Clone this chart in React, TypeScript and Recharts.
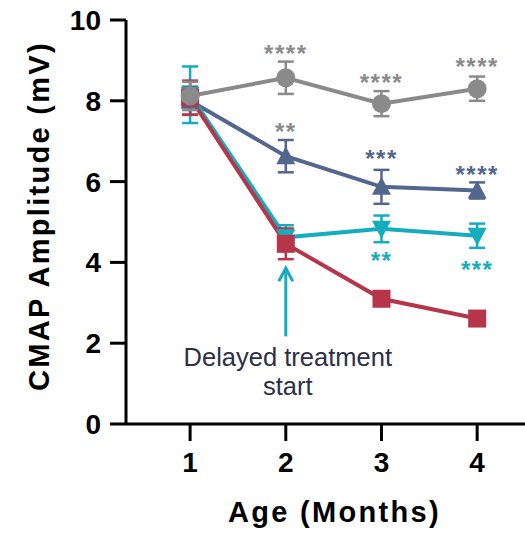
import { LineChart, Line, XAxis, YAxis, ErrorBar, ReferenceDot, ReferenceLine } from 'recharts';

const months = [1, 2, 3, 4];
const yTicks = [0, 2, 4, 6, 8, 10];

const grayMean = [8.12, 8.57, 7.93, 8.3];
const grayErr = [0.35, 0.4, 0.31, 0.3];
const slateMean = [8.0, 6.63, 5.87, 5.78];
const slateErr = [0.35, 0.4, 0.42, 0.2];
const tealMean = [8.15, 4.62, 4.83, 4.66];
const tealErr = [0.7, 0.3, 0.33, 0.3];
const redMean = [8.08, 4.46, 3.1, 2.61];
const redErr = [0.42, 0.38, 0.1, 0.1];

// significance stars: month, level (mV), text, group
const starMonths = [2, 3, 4, 2, 3, 4, 3, 4];
const starLevels = [9.3, 8.58, 8.97, 7.37, 6.7, 6.31, 4.16, 3.94];
const starTexts = ['****', '****', '****', '**', '***', '****', '**', '***'];
const starGroups = ['gray', 'gray', 'gray', 'gray', 'slate', 'slate', 'teal', 'teal'];

const noteLines = ['Delayed treatment', 'start'];

const colors: Record<string, string> = {
  gray: '#8a8a8a',
  slate: '#53678e',
  teal: '#14adbe',
  red: '#b7354b',
};

const data = months.map((m, i) => ({
  month: m,
  gray: grayMean[i],
  grayErr: grayErr[i],
  slate: slateMean[i],
  slateErr: slateErr[i],
  teal: tealMean[i],
  tealErr: tealErr[i],
  red: redMean[i],
  redErr: redErr[i],
}));

const font = 'Arial, "Liberation Sans", Helvetica, sans-serif';

const circleDot = (color: string) => (p: any) => (
  <circle key={`c-${p.index}`} cx={p.cx} cy={p.cy} r={9.5} fill={color} />
);
const squareDot = (color: string) => (p: any) => (
  <rect key={`s-${p.index}`} x={p.cx - 9} y={p.cy - 9} width={18} height={18} fill={color} />
);
const upDot = (color: string) => (p: any) => (
  <polygon
    key={`u-${p.index}`}
    points={`${p.cx},${p.cy - 10} ${p.cx + 9.5},${p.cy + 8} ${p.cx - 9.5},${p.cy + 8}`}
    fill={color}
  />
);
const downDot = (color: string) => (p: any) => (
  <polygon
    key={`d-${p.index}`}
    points={`${p.cx},${p.cy + 10} ${p.cx + 9.5},${p.cy - 8} ${p.cx - 9.5},${p.cy - 8}`}
    fill={color}
  />
);

const Stars = (text: string, color: string) => (p: any) => (
  <text
    x={p.cx}
    y={p.cy + 13.5}
    textAnchor="middle"
    fontFamily={font}
    fontWeight="bold"
    fontSize={24}
    letterSpacing={1.5}
    fill={color}
  >
    {text}
  </text>
);

const Arrow = (p: any) => {
  const { x1, y1, x2, y2 } = p;
  const tipY = Math.min(y1, y2);
  const baseY = Math.max(y1, y2);
  return (
    <g stroke={colors.teal} strokeWidth={3} fill="none">
      <line x1={x1} y1={baseY} x2={x2} y2={tipY + 1} />
      <polyline points={`${x1 - 7},${tipY + 14} ${x1},${tipY + 1} ${x1 + 7},${tipY + 14}`} />
    </g>
  );
};

const Note = (p: any) => (
  <g>
    {noteLines.map((line, i) => (
      <text
        key={line}
        x={p.cx + 2}
        y={p.cy - 1 + i * 29}
        textAnchor="middle"
        fontFamily={font}
        fontSize={25.5}
        fill="#2d2f46"
      >
        {line}
      </text>
    ))}
  </g>
);

export default function App() {
  return (
    <div style={{ position: 'absolute', left: 0, top: 0, background: '#fff' }}>
      <LineChart width={525} height={533} data={data} margin={{ top: 20, right: 0, bottom: 79, left: 0 }}>
        <XAxis
          dataKey="month"
          type="number"
          domain={[0.33, 4.5]}
          ticks={months}
          height={30}
          allowDataOverflow
          stroke="#000"
          axisLine={{ stroke: '#000', strokeWidth: 3 }}
          tickLine={{ stroke: '#000', strokeWidth: 3 }}
          tickSize={17}
          tickMargin={11}
          tick={{ fill: '#000', fontSize: 28, fontWeight: 'bold', fontFamily: font }}
          label={({ viewBox }: any) => (
            <text
              x={viewBox.x + viewBox.width / 2 + 9}
              y={viewBox.y + 98}
              textAnchor="middle"
              fontFamily={font}
              fontWeight="bold"
              fontSize={29}
              letterSpacing={2.3}
              fill="#000"
            >
              Age (Months)
            </text>
          )}
        />
        <YAxis
          domain={[0, 10]}
          ticks={yTicks}
          width={126}
          allowDataOverflow
          axisLine={{ stroke: '#000', strokeWidth: 3 }}
          tickLine={{ stroke: '#000', strokeWidth: 3 }}
          tickSize={16}
          tickMargin={9}
          tick={{ fill: '#000', fontSize: 28, fontWeight: 'bold', fontFamily: font }}
          label={({ viewBox }: any) => {
            const cx = 49;
            const cy = viewBox.y + viewBox.height / 2 - 6;
            return (
              <text
                x={cx}
                y={cy}
                transform={`rotate(-90, ${cx}, ${cy})`}
                textAnchor="middle"
                fontFamily={font}
                fontWeight="bold"
                fontSize={29}
                letterSpacing={2.3}
                fill="#000"
              >
                CMAP Amplitude (mV)
              </text>
            );
          }}
        />
        <Line
          dataKey="slate"
          stroke={colors.slate}
          strokeWidth={4}
          isAnimationActive={false}
          dot={upDot(colors.slate)}
          activeDot={false}
        >
          <ErrorBar dataKey="slateErr" direction="y" width={8} strokeWidth={2.5} stroke={colors.slate} />
        </Line>
        <Line
          dataKey="teal"
          stroke={colors.teal}
          strokeWidth={4}
          isAnimationActive={false}
          dot={downDot(colors.teal)}
          activeDot={false}
        >
          <ErrorBar dataKey="tealErr" direction="y" width={8} strokeWidth={2.5} stroke={colors.teal} />
        </Line>
        <Line
          dataKey="red"
          stroke={colors.red}
          strokeWidth={4}
          isAnimationActive={false}
          dot={squareDot(colors.red)}
          activeDot={false}
        >
          <ErrorBar dataKey="redErr" direction="y" width={8} strokeWidth={2.5} stroke={colors.red} />
        </Line>
        <Line
          dataKey="gray"
          stroke={colors.gray}
          strokeWidth={4}
          isAnimationActive={false}
          dot={circleDot(colors.gray)}
          activeDot={false}
        >
          <ErrorBar dataKey="grayErr" direction="y" width={8} strokeWidth={2.5} stroke={colors.gray} />
        </Line>
        {starTexts.map((t, i) => (
          <ReferenceDot
            key={`star-${i}`}
            x={starMonths[i]}
            y={starLevels[i]}
            r={0}
            shape={Stars(t, colors[starGroups[i]])}
          />
        ))}
        <ReferenceLine
          segment={[
            { x: 2, y: 2.17 },
            { x: 2, y: 3.88 },
          ]}
          shape={Arrow}
        />
        <ReferenceDot x={2} y={1.4} r={0} shape={Note} />
      </LineChart>
    </div>
  );
}
